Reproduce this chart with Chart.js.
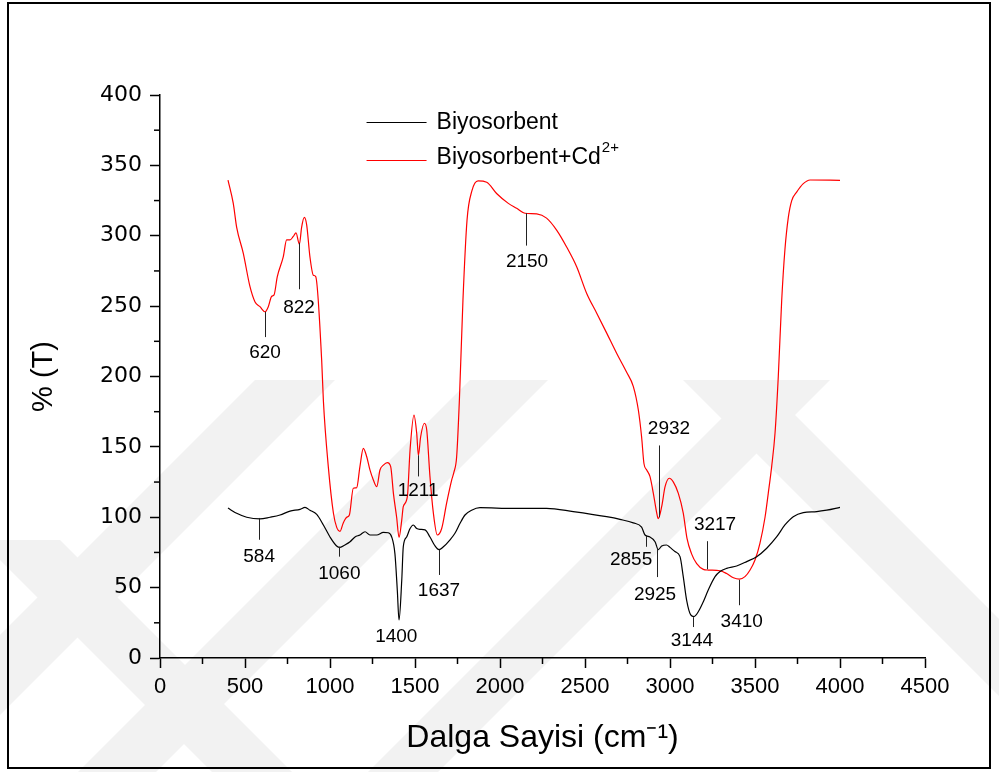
<!DOCTYPE html>
<html>
<head>
<meta charset="utf-8">
<script src="https://cdn.jsdelivr.net/npm/chart.js@4.4.1/dist/chart.umd.min.js"></script>
<style>
  html, body { margin: 0; padding: 0; background: #fff; }
  #wrap { width: 999px; height: 772px; position: relative; }
</style>
</head>
<body>
<div id="wrap"><canvas id="ftir"></canvas></div>
<script>
// wavenumbers (cm-1) and %T
const waveBio = [400, 451, 510, 588, 647, 706, 765, 824, 853, 882, 922, 961, 1000, 1039, 1059, 1088, 1118, 1147, 1176, 1206,
    1235, 1275, 1314, 1343, 1363, 1382, 1396, 1406, 1422, 1431, 1451, 1471, 1490, 1510, 1529, 1559, 1588, 1618, 1641, 1667,
    1706, 1735, 1765, 1794, 1833, 1882, 2078, 2274, 2431, 2627, 2706, 2784, 2833, 2853, 2882, 2912, 2931, 2951, 2980, 3000,
    3029, 3059, 3078, 3098, 3122, 3141, 3167, 3196, 3225, 3265, 3294, 3333, 3392, 3451, 3510, 3569, 3627, 3676, 3725, 3784,
    3863, 3922, 4000];
const tBio = [106.5, 102.8, 100, 98.8, 100, 101.6, 104.4, 105.6, 107, 105, 102, 94.5, 86, 79.6, 78.6, 80.3, 82.6, 86, 87.4, 89.7,
    87.4, 87.4, 89.3, 89, 86, 74, 48, 27, 55, 79, 86, 92, 94.5, 92, 91.4, 91, 86, 79.6, 77, 79,
    84, 88.6, 95.7, 101.6, 105, 106.8, 106.3, 106.3, 104, 100.4, 98.5, 96, 93, 87.4, 86, 82.6, 77, 79.6, 80.3, 78.6,
    75.6, 72, 57.8, 41, 30.6, 29.4, 33, 40, 48.3, 57.8, 61.4, 63.7, 65.4, 68.5, 72, 78, 86, 94.5, 100.4, 103.3,
    104, 105, 107];

const waveCd = [400, 431, 451, 490, 529, 559, 588, 618, 637, 657, 671, 690, 725, 745, 765, 784, 800, 820, 833, 849,
    863, 882, 902, 916, 951, 961, 990, 1020, 1039, 1059, 1078, 1098, 1114, 1137, 1157, 1176, 1196, 1216, 1235, 1255,
    1275, 1294, 1314, 1337, 1357, 1373, 1392, 1406, 1422, 1431, 1455, 1471, 1494, 1510, 1520, 1533, 1555, 1569, 1588, 1608,
    1631, 1657, 1686, 1716, 1729, 1745, 1761, 1782, 1806, 1835, 1871, 1922, 1980, 2049, 2098, 2147, 2216, 2274, 2333, 2392,
    2451, 2510, 2569, 2627, 2686, 2745, 2784, 2814, 2833, 2847, 2863, 2882, 2902, 2922, 2931, 2951, 2971, 2996, 3020, 3049,
    3078, 3100, 3127, 3157, 3196, 3225, 3294, 3333, 3373, 3408, 3441, 3471, 3500, 3529, 3559, 3578, 3598, 3618, 3637, 3657,
    3676, 3696, 3716, 3745, 3784, 3824, 4000];
const tCd = [339.6, 323, 306, 287.5, 264, 253, 249.6, 246, 249.6, 257, 258, 271, 285, 297, 297, 299.5, 302, 294, 306, 313,
    307.6, 285, 272, 271, 211.7, 183, 136, 103, 93, 90, 96, 100, 101.6, 120.6, 121, 136, 149, 143, 133.6, 126.5,
    121.7, 133.6, 137, 138.8, 136, 117, 100, 85.7, 98, 107.5, 114.6, 148, 172.6, 159.7, 144, 157, 166.8, 162, 129, 103,
    87.4, 92, 110, 126.5, 132, 143, 183, 254, 311, 332, 339, 338, 330, 323, 319.5, 316, 315.5, 312.5, 304, 292,
    278, 259, 245, 231, 216.5, 203, 193, 176, 157, 138, 133.6, 129, 117, 103, 99, 107.5, 121.7, 127.7, 125, 117,
    103, 85, 74, 67, 63, 62.5, 62, 60, 57, 56, 57.8, 62.5, 69.6, 81.5, 100, 117, 136, 160, 200, 254,
    290, 313, 325, 331, 337, 339.6, 339.4];

const seriesNames = ['Biyosorbent', 'Biyosorbent+Cd'];
const seriesColors = ['#000000', '#ff0000'];

// peak labels: text, x of the marker, marker from y0 to y1, label centre (lx, ly)
const peaks = [
    { text: '584',  x: 583,  y0: 99.5,  y1: 84,    lx: 583,  ly: 72 },
    { text: '620',  x: 618,  y0: 246,   y1: 228,   lx: 618,  ly: 217 },
    { text: '822',  x: 818,  y0: 295,   y1: 262,   lx: 818,  ly: 249 },
    { text: '1060', x: 1055, y0: 79,    y1: 72,    lx: 1055, ly: 60 },
    { text: '1400', x: 1400, y0: null,  y1: null,  lx: 1390, ly: 15 },
    { text: '1211', x: 1518, y0: 144,   y1: 129,   lx: 1518, ly: 119 },
    { text: '1637', x: 1641, y0: 77,    y1: 59,    lx: 1641, ly: 47.5 },
    { text: '2150', x: 2151, y0: 316,   y1: 293,   lx: 2159, ly: 281.5 },
    { text: '2932', x: 2935, y0: 100,   y1: 151,   lx: 2994, ly: 163 },
    { text: '2855', x: 2859, y0: 87,    y1: 79,    lx: 2771, ly: 69.5 },
    { text: '2925', x: 2925, y0: 78,    y1: 57.5,  lx: 2912, ly: 45 },
    { text: '3144', x: 3135, y0: 29,    y1: 22,    lx: 3129, ly: 12 },
    { text: '3217', x: 3219, y0: 63,    y1: 83,    lx: 3265, ly: 95 },
    { text: '3410', x: 3406, y0: 55.5,  y1: 37.5,  lx: 3422, ly: 25.5 }
];

function pts(xs, ys) {
    return xs.map(function (x, i) { return { x: x, y: ys[i] }; });
}

// grey watermark stripes + outer frame
const backdrop = {
    id: 'backdrop',
    beforeDraw(chart) {
        const ctx = chart.ctx;
        ctx.save();
        ctx.fillStyle = '#fff';
        ctx.fillRect(0, 0, chart.width, chart.height);
        ctx.fillStyle = '#f2f2f2';
        const bands = [
            [[255, 380], [335, 380], [-57, 772], [-137, 772]],
            [[-20, 540], [60, 540], [292, 772], [212, 772]],
            [[470, 380], [548, 380], [156, 772], [78, 772]],
            [[760, 380], [830, 380], [438, 772], [368, 772]],
            [[683, 380], [760, 380], [1152, 772], [1075, 772]]
        ];
        bands.forEach(function (b) {
            ctx.beginPath();
            ctx.moveTo(b[0][0], b[0][1]);
            for (let i = 1; i < b.length; i++) ctx.lineTo(b[i][0], b[i][1]);
            ctx.closePath();
            ctx.fill();
        });
        ctx.lineWidth = 2;
        ctx.strokeStyle = '#000';
        ctx.strokeRect(8, 3, 982, 765);
        ctx.restore();
    }
};

// minor ticks, peak markers and the legend
const extras = {
    id: 'extras',
    afterDraw(chart) {
        const ctx = chart.ctx;
        const xs = chart.scales.x, ys = chart.scales.y;
        ctx.save();
        ctx.strokeStyle = '#000';
        ctx.lineWidth = 1.5;
        for (let v = 250; v < 4500; v += 500) {
            const px = xs.getPixelForValue(v);
            ctx.beginPath(); ctx.moveTo(px, ys.bottom); ctx.lineTo(px, ys.bottom + 6); ctx.stroke();
        }
        for (let v = 25; v < 400; v += 50) {
            const py = ys.getPixelForValue(v);
            ctx.beginPath(); ctx.moveTo(xs.left, py); ctx.lineTo(xs.left - 6, py); ctx.stroke();
        }

        ctx.lineWidth = 1;
        ctx.strokeStyle = '#222';
        ctx.fillStyle = '#000';
        ctx.font = '19px "Liberation Sans", Arial, sans-serif';
        ctx.textAlign = 'center';
        ctx.textBaseline = 'middle';
        peaks.forEach(function (p) {
            if (p.y0 !== null) {
                const px = Math.round(xs.getPixelForValue(p.x)) + 0.5;
                ctx.beginPath();
                ctx.moveTo(px, ys.getPixelForValue(p.y0));
                ctx.lineTo(px, ys.getPixelForValue(p.y1));
                ctx.stroke();
            }
            ctx.fillText(p.text, xs.getPixelForValue(p.lx), ys.getPixelForValue(p.ly));
        });

        // legend
        const lx = xs.getPixelForValue(1215), rows = [ys.getPixelForValue(380.5), ys.getPixelForValue(356)];
        ctx.textAlign = 'left';
        chart.data.datasets.forEach(function (ds, i) {
            const y = Math.round(rows[i]) + 0.5;
            ctx.strokeStyle = ds.borderColor;
            ctx.lineWidth = 1;
            ctx.beginPath(); ctx.moveTo(lx, y + (i ? 3 : 0)); ctx.lineTo(lx + 60, y + (i ? 3 : 0)); ctx.stroke();
            ctx.font = '23px "Liberation Sans", Arial, sans-serif';
            ctx.fillStyle = '#000';
            ctx.fillText(ds.label, lx + 70, y);
            if (i === 1) {
                const w = ctx.measureText(ds.label).width;
                ctx.font = '15px "Liberation Sans", Arial, sans-serif';
                ctx.fillText('2+', lx + 71 + w, y - 10);
            }
        });
        ctx.restore();
    }
};

new Chart(document.getElementById('ftir').getContext('2d'), {
    type: 'line',
    data: {
        datasets: [{
            label: seriesNames[0],
            data: pts(waveBio, tBio),
            borderColor: seriesColors[0],
            borderWidth: 1.2,
            pointRadius: 0,
            cubicInterpolationMode: 'monotone'
        }, {
            label: seriesNames[1],
            data: pts(waveCd, tCd),
            borderColor: seriesColors[1],
            borderWidth: 1.2,
            pointRadius: 0,
            cubicInterpolationMode: 'monotone'
        }]
    },
    options: {
        responsive: true,
        maintainAspectRatio: false,
        animation: false,
        layout: { padding: { left: 10, right: 74, top: 95, bottom: 10 } },
        plugins: {
            legend: { display: false },
            tooltip: { enabled: false }
        },
        scales: {
            x: {
                type: 'linear',
                min: 0,
                max: 4500,
                afterFit: function (s) { s.height = 104; },
                ticks: {
                    stepSize: 500,
                    color: '#000',
                    padding: 6,
                    maxRotation: 0,
                    callback: function (v) { return String(v); },
                    font: { family: '"Liberation Sans", Arial, sans-serif', size: 22 }
                },
                grid: { drawOnChartArea: false, tickLength: 10, tickColor: '#000', tickWidth: 1.5 },
                border: { color: '#000', width: 1.5 },
                title: {
                    display: true,
                    text: 'Dalga Sayisi (cm⁻¹)',
                    color: '#000',
                    padding: { top: 0, bottom: 5 },
                    font: { family: '"Liberation Sans", Arial, sans-serif', size: 32 }
                }
            },
            y: {
                min: 0,
                max: 400,
                afterFit: function (s) { s.width = 150; },
                ticks: {
                    stepSize: 50,
                    color: '#000',
                    padding: 8,
                    callback: function (v) { return String(v); },
                    font: { family: '"DejaVu Sans", sans-serif', size: 22 }
                },
                grid: { drawOnChartArea: false, tickLength: 10, tickColor: '#000', tickWidth: 1.5 },
                border: { color: '#000', width: 1.5 },
                title: {
                    display: true,
                    text: '% (T)',
                    color: '#000',
                    padding: { top: 17, bottom: 0 },
                    font: { family: '"Liberation Sans", Arial, sans-serif', size: 29 }
                }
            }
        }
    },
    plugins: [backdrop, extras]
});
</script>
</body>
</html>
